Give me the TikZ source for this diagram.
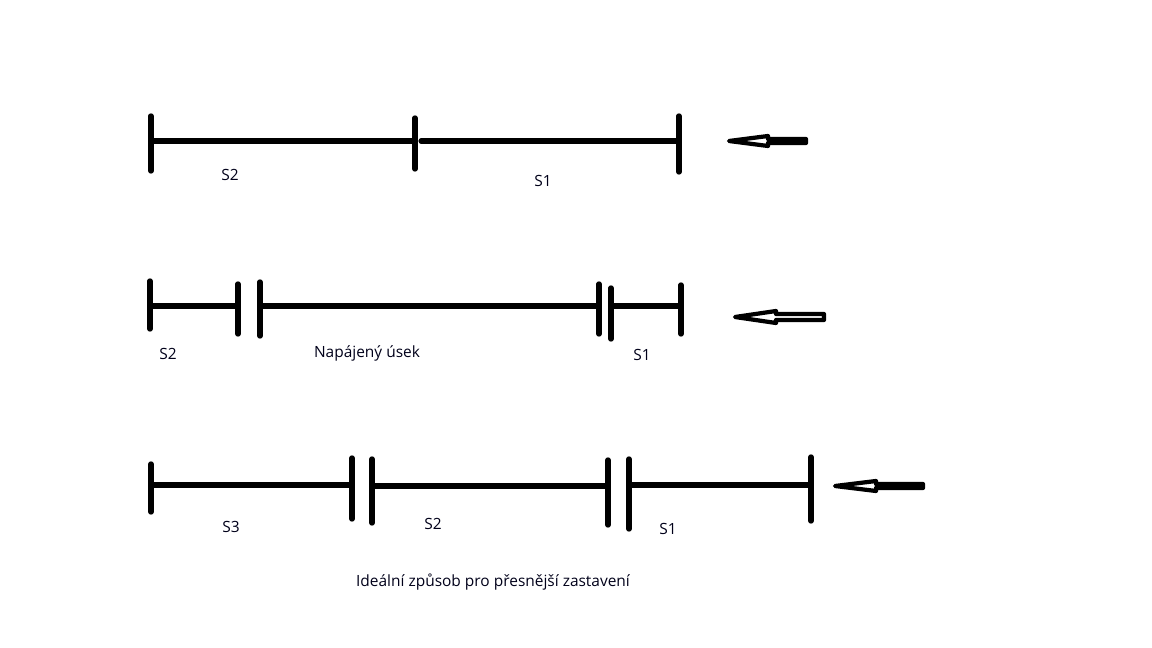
\documentclass[tikz,border=0pt]{standalone}
\usepackage{fontspec}
\setmainfont{Open Sans}
\usetikzlibrary{positioning}

\begin{document}
\begin{tikzpicture}[
    x=0.025cm, y=-0.025cm,
    rail/.style={line width=3.6pt, line cap=round},
    tick/.style={line width=3.8pt, line cap=round},
    lbl/.style={font=\fontsize{11}{13}\selectfont, text=black!90!blue, inner sep=0pt},
    hollow/.style={draw, fill=white, line width=3pt, line join=round},
]
    \useasboundingbox (0,0) rectangle (1152,648);

    % Row 1
    \coordinate (r1a) at (151,141);
    \coordinate (r1b) at (415,141);
    \coordinate (r1c) at (679,141);
    \draw[tick] (151,116) -- (151,171);
    \draw[tick] (415,118) -- (415,169);
    \draw[tick] (679,116) -- (679,172);
    \draw[rail] (r1a) -- (413,141);
    \draw[rail] (421,141) -- (r1c);
    \node[lbl] (s2a) at (230,175) {S2};
    \node[lbl] (s1a) at (543,181) {S1};
    \coordinate (tip1) at (729,141);
    \draw[hollow, shift={(tip1)}] (0,0) -- (39,-5) -- (39,-2) -- (77,-2) -- (77,2) -- (39,2) -- (39,5) -- cycle;

    % Row 2
    \coordinate (r2a) at (150,306);
    \coordinate (r2b) at (238,306);
    \coordinate (r2c) at (260,306);
    \coordinate (r2d) at (599,306);
    \coordinate (r2e) at (611,306);
    \coordinate (r2f) at (681,306);
    \draw[tick] (150,281) -- (150,329);
    \draw[tick] (238,284) -- (238,334);
    \draw[tick] (260,282) -- (260,336);
    \draw[tick] (599,284) -- (599,334);
    \draw[tick] (611,288) -- (611,339);
    \draw[tick] (681,285) -- (681,334);
    \draw[rail] (r2a) -- (r2b);
    \draw[rail] (r2c) -- (r2d);
    \draw[rail] (r2e) -- (r2f);
    \node[lbl] (s2b) at (168,354) {S2};
    \node[lbl] (nap) at (367,353) {Napájený úsek};
    \node[lbl] (s1b) at (642,355) {S1};
    \coordinate (tip2) at (735,317);
    \draw[hollow, shift={(tip2)}] (0,0) -- (41,-6) -- (41,-3) -- (89,-3) -- (89,3) -- (41,3) -- (41,6) -- cycle;

    % Row 3
    \coordinate (r3a) at (151,485);
    \coordinate (r3b) at (352,485);
    \coordinate (r3c) at (372,486);
    \coordinate (r3d) at (608,486);
    \coordinate (r3e) at (629,485);
    \coordinate (r3f) at (811,485);
    \draw[tick] (151,464) -- (151,512);
    \draw[tick] (352,458) -- (352,519);
    \draw[tick] (372,459) -- (372,523);
    \draw[tick] (608,460) -- (608,525);
    \draw[tick] (629,459) -- (629,529);
    \draw[tick] (811,457) -- (811,521);
    \draw[rail] (r3a) -- (r3b);
    \draw[rail] (r3c) -- (r3d);
    \draw[rail] (r3e) -- (r3f);
    \node[lbl] (s3c) at (231,527) {S3};
    \node[lbl] (s2c) at (433,524) {S2};
    \node[lbl] (s1c) at (668,529) {S1};
    \coordinate (tip3) at (835,486);
    \draw[hollow, shift={(tip3)}] (0,0) -- (41,-5) -- (41,-2) -- (88,-2) -- (88,2) -- (41,2) -- (41,5) -- cycle;

    \node[lbl] (cap) at (493,582) {Ideální způsob pro přesnější zastavení};
\end{tikzpicture}
\end{document}
